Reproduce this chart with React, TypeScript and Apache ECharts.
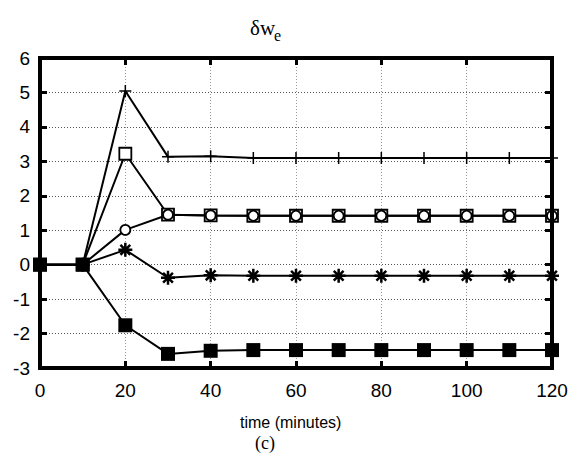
import React, { useEffect, useRef } from "react";
import * as echarts from "echarts";

const times = [0, 10, 20, 30, 40, 50, 60, 70, 80, 90, 100, 110, 120];
const plusSeries = [0, 0, 5.04, 3.13, 3.15, 3.1, 3.1, 3.1, 3.1, 3.1, 3.1, 3.1, 3.1];
const openSquareSeries = [0, 0, 3.22, 1.45, 1.43, 1.42, 1.42, 1.42, 1.42, 1.42, 1.42, 1.42, 1.42];
const circleSeries = [0, 0, 1.01, 1.45, 1.43, 1.42, 1.42, 1.42, 1.42, 1.42, 1.42, 1.42, 1.42];
const starSeries = [0, 0, 0.43, -0.38, -0.31, -0.32, -0.32, -0.32, -0.32, -0.32, -0.32, -0.32, -0.32];
const filledSquareSeries = [0, 0, -1.76, -2.59, -2.5, -2.48, -2.48, -2.48, -2.48, -2.48, -2.48, -2.48, -2.48];
const xTicks = [0, 20, 40, 60, 80, 100, 120];
const yTicks = [-3, -2, -1, 0, 1, 2, 3, 4, 5, 6];

const PLUS = "path://M0,5L10,5M5,0L5,10";
const STAR = "path://M0,5L10,5M5,0L5,10M1.5,1.5L8.5,8.5M8.5,1.5L1.5,8.5";

const GL = 40, GT = 58, GR = 22, GB = 96, W = 574, H = 464;
const tick = { show: true, inside: true, length: 7, lineStyle: { color: "#000", width: 3 } };
const noLine = { show: false, onZero: false };

export default function App() {
  const ref = useRef<HTMLDivElement>(null);
  useEffect(() => {
    if (!ref.current) return;
    const chart = echarts.init(ref.current, undefined, { renderer: "svg" });
    const mk = (vals: number[]) => vals.map((v, i) => [times[i], v]);
    const base = {
      type: "line",
      lineStyle: { color: "#000", width: 2 },
      showAllSymbol: true,
      clip: false,
      z: 3,
    };
    const pw = W - GL - GR, ph = H - GT - GB;
    chart.setOption({
      animation: false,
      backgroundColor: "#fff",
      grid: { left: GL, right: GR, top: GT, bottom: GB },
      graphic: [
        { type: "line", z: 20, silent: true, shape: { x1: GL, y1: GT, x2: GL + pw, y2: GT }, style: { stroke: "#000", lineWidth: 4 } },
        { type: "line", z: 20, silent: true, shape: { x1: GL, y1: GT + ph, x2: GL + pw, y2: GT + ph }, style: { stroke: "#000", lineWidth: 4 } },
        { type: "line", z: 20, silent: true, shape: { x1: GL, y1: GT - 2, x2: GL, y2: GT + ph + 2 }, style: { stroke: "#000", lineWidth: 4 } },
        { type: "line", z: 20, silent: true, shape: { x1: GL + pw, y1: GT - 2, x2: GL + pw, y2: GT + ph + 2 }, style: { stroke: "#000", lineWidth: 4 } },
        { type: "text", left: 250, top: 17, style: { text: "δw", font: "21px 'Liberation Serif'", fill: "#000" } },
        { type: "text", left: 274, top: 27, style: { text: "e", font: "16px 'Liberation Serif'", fill: "#000" } },
        { type: "text", left: 240, top: 414, style: { text: "time (minutes)", font: "16px 'Liberation Sans'", fill: "#000" } },
        { type: "text", left: 255, top: 434, style: { text: "(c)", font: "18px 'Liberation Serif'", fill: "#000" } },
      ],
      xAxis: [
        {
          type: "value",
          min: 0,
          max: 120,
          interval: 20,
          axisLine: noLine,
          axisTick: tick,
          axisLabel: {
            color: "#000",
            fontFamily: "Liberation Sans",
            fontSize: 19,
            margin: 13,
            formatter: (v: number) => (xTicks.includes(v) ? String(v) : ""),
          },
          splitLine: { show: true, lineStyle: { color: "#999", type: [1, 2], width: 1 } },
        },
        {
          type: "value",
          position: "top",
          min: 0,
          max: 120,
          interval: 20,
          axisLine: noLine,
          axisTick: tick,
          axisLabel: { show: false },
          splitLine: { show: false },
        },
      ],
      yAxis: [
        {
          type: "value",
          min: -3,
          max: 6,
          interval: 1,
          axisLine: noLine,
          axisTick: tick,
          axisLabel: {
            color: "#000",
            fontFamily: "Liberation Sans",
            fontSize: 19,
            margin: 10,
            formatter: (v: number) => (yTicks.includes(v) ? String(v) : ""),
          },
          splitLine: { show: true, lineStyle: { color: "#555", type: [1, 2], width: 1 } },
        },
        {
          type: "value",
          position: "right",
          min: -3,
          max: 6,
          interval: 1,
          axisLine: noLine,
          axisTick: tick,
          axisLabel: { show: false },
          splitLine: { show: false },
        },
      ],
      series: [
        {
          ...base,
          name: "plus",
          data: mk(plusSeries),
          symbol: PLUS,
          symbolSize: 12,
          itemStyle: { color: "none", borderColor: "#000", borderWidth: 1.5 },
        },
        {
          ...base,
          name: "openSquare",
          data: mk(openSquareSeries),
          symbol: "rect",
          symbolSize: 12,
          itemStyle: { color: "#fff", borderColor: "#000", borderWidth: 1.8 },
        },
        {
          ...base,
          name: "circle",
          data: mk(circleSeries),
          symbol: "circle",
          symbolSize: 10,
          itemStyle: { color: "#fff", borderColor: "#000", borderWidth: 1.8 },
        },
        {
          ...base,
          name: "star",
          data: mk(starSeries),
          symbol: STAR,
          symbolSize: 14,
          itemStyle: { color: "none", borderColor: "#000", borderWidth: 2.5 },
        },
        {
          ...base,
          name: "filledSquare",
          data: mk(filledSquareSeries),
          symbol: "rect",
          symbolSize: 14,
          z: 25,
          itemStyle: { color: "#000", borderColor: "#000", borderWidth: 0 },
        },
      ],
    });
    return () => chart.dispose();
  }, []);
  return <div ref={ref} style={{ position: "fixed", left: 0, top: 0, width: W, height: H }} />;
}
